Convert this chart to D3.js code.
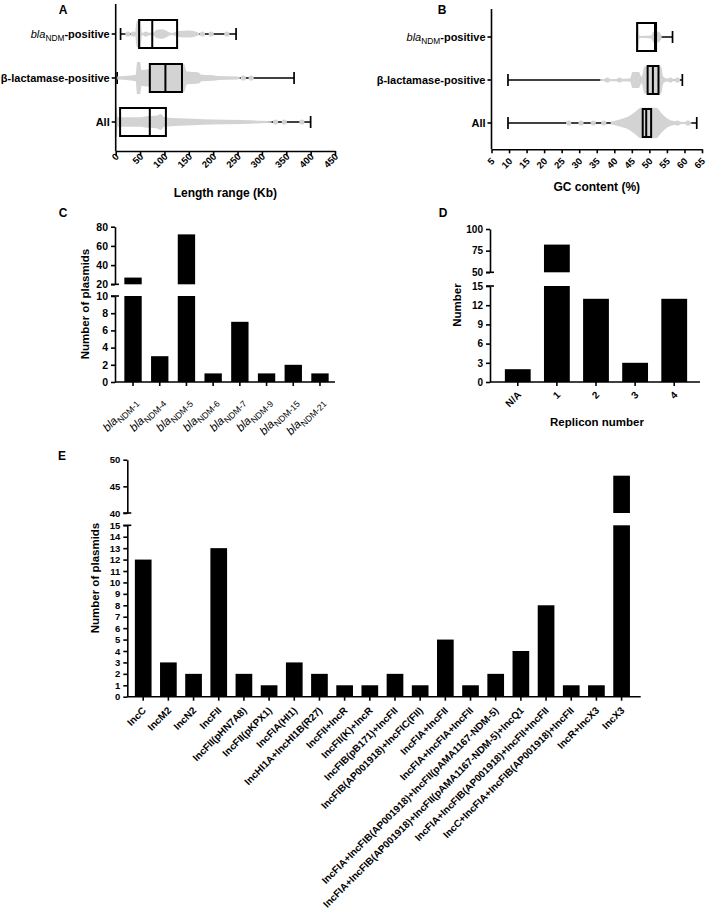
<!DOCTYPE html>
<html>
<head>
<meta charset="utf-8">
<script src="https://cdn.jsdelivr.net/npm/d3@7"></script>
<style>
  body { margin: 0; background: #fff; }
  svg { font-family: "Liberation Sans", Arial, sans-serif; font-weight: bold; }
</style>
</head>
<body>
<svg width="708" height="923"></svg>
<script>
// ---------- data ----------
const groupKeys = ["ndm", "beta", "all"];
const groupNames = ["-positive", "β-lactamase-positive", "All"];

// [min, q1, median, q3, max]
const lengthStats = [[10, 48, 75, 126, 247], [3, 70, 102, 136, 366], [0.5, 9, 70, 103, 400]];
const gcStats = [[46.5, 46.5, 51.6, 51.9, 56.6], [9.7, 49.5, 51, 52.6, 59.4], [9.7, 48.1, 49.1, 50.5, 63.5]];

// gray point clouds: [value, relative spread]
const lengthSpread = [
  [[40, 0.05], [44, 0.85], [51, 0.85], [54, 0.08], [78, 0.1], [83, 0.25], [95, 0.3], [104, 0.2], [115, 0.06], [128, 0.18], [150, 0.22], [165, 0.14], [172, 0.04]],
  [[3, 0.1], [30, 0.15], [41, 0.2], [44, 1.0], [50, 1.0], [53, 0.5], [68, 0.55], [72, 0.88], [140, 0.88], [146, 0.4], [170, 0.35], [176, 0.2], [200, 0.17], [210, 0.12], [250, 0.09], [256, 0.02]],
  [[0, 0.9], [2, 0.9], [4, 0.3], [50, 0.3], [60, 0.35], [85, 0.4], [92, 0.5], [100, 0.3], [160, 0.2], [200, 0.15], [260, 0.12], [300, 0.08], [320, 0.05]]
];
const gcSpread = [
  [[46.3, 0.85], [46.8, 0.85], [47.2, 0.07], [50.5, 0.1], [51.2, 0.35], [52.5, 0.35], [53.5, 0.08]],
  [[36, 0.06], [44.5, 0.1], [45.2, 0.5], [47, 0.5], [47.8, 0.2], [48.6, 0.85], [53.3, 0.85], [54, 0.2], [55, 0.1], [58, 0.05]],
  [[39, 0.08], [42, 0.25], [44, 0.4], [46, 0.7], [47.5, 0.95], [52, 0.95], [53.5, 0.6], [55, 0.3], [57, 0.12], [60, 0.06], [62, 0.04]]
];
// sparse single points lying on the whiskers
const lengthDots = [[25, 36, 62, 142, 178, 196, 228], [262, 278], [328, 346, 382]];
const gcDots = [[], [38, 41.5, 56, 58], [27, 30.5, 34, 37, 58, 61]];

const lengthTicks = d3.range(0, 451, 50);
const gcTicks = d3.range(5, 66, 5);

const ndmVariants = ["NDM-1", "NDM-4", "NDM-5", "NDM-6", "NDM-7", "NDM-9", "NDM-15", "NDM-21"];
const ndmCounts = [27, 3, 72, 1, 7, 1, 2, 1];

const repliconCats = ["N/A", "1", "2", "3", "4"];
const repliconCounts = [2, 82, 13, 3, 13];

const incTypes = ["IncC", "IncM2", "IncN2", "IncFII", "IncFII(pHN7A8)", "IncFII(pKPX1)", "IncFIA(HI1)",
  "IncHI1A+IncHI1B(R27)", "IncFII+IncR", "IncFII(K)+IncR", "IncFIB(pB171)+IncFII",
  "IncFIB(AP001918)+IncFIC(FII)", "IncFIA+IncFII", "IncFIA+IncFIA+IncFII",
  "IncFIA+IncFIB(AP001918)+IncFII(pAMA1167-NDM-5)", "IncFIA+IncFIB(AP001918)+IncFII(pAMA1167-NDM-5)+IncQ1",
  "IncFIA+IncFIB(AP001918)+IncFII+IncFII", "IncC+IncFIA+IncFIB(AP001918)+IncFII", "IncR+IncX3", "IncX3"];
const incCounts = [12, 3, 2, 13, 2, 1, 3, 2, 1, 1, 2, 1, 5, 1, 2, 4, 8, 1, 1, 47];

// ---------- drawing ----------
const svg = d3.select("svg");
const GRAY = "#d3d3d3";

function panelLetter(txt, x, y) {
  svg.append("text").attr("x", x).attr("y", y).attr("font-size", 12).attr("text-anchor", "middle").text(txt);
}

function blaLabel(sel, sub, rest, size, subBold) {
  sel.append("tspan").attr("font-style", "italic").attr("font-weight", "normal").text("bla");
  sel.append("tspan").attr("font-weight", subBold ? "bold" : "normal").attr("font-size", size * 0.76)
    .attr("dy", size * 0.3).text(sub);
  if (rest) sel.append("tspan").attr("dy", -size * 0.3).text(rest);
}

function styleAxis(g, size) {
  g.attr("font-family", null).attr("font-size", size);
  g.selectAll("path, line").attr("stroke", "#000").attr("stroke-width", 1.6);
  g.selectAll("text").attr("fill", "#000");
}

function boxPanel(cfg) {
  const g = svg.append("g");
  const x = d3.scaleLinear().domain(cfg.domain).range(cfg.xRange);
  const y = d3.scalePoint().domain(groupKeys).range(cfg.yRange);
  const ax = cfg.xRange[0];

  cfg.stats.forEach((s, i) => {
    const cy = y(groupKeys[i]);
    // whisker + caps
    g.append("line").attr("x1", x(s[0])).attr("x2", x(s[4])).attr("y1", cy).attr("y2", cy)
      .attr("stroke", "#000").attr("stroke-width", 1.7);
    [s[0], s[4]].forEach(v => g.append("line").attr("x1", x(v)).attr("x2", x(v))
      .attr("y1", cy - 6).attr("y2", cy + 6).attr("stroke", "#000").attr("stroke-width", 1.7));
    // point cloud
    const area = d3.area().x(d => x(d[0])).y0(d => cy - d[1] * 16).y1(d => cy + d[1] * 16).curve(d3.curveMonotoneX);
    g.append("path").datum(cfg.spread[i]).attr("d", area).attr("fill", GRAY);
    g.selectAll(null).data(cfg.dots[i]).join("circle")
      .attr("cx", d => x(d)).attr("cy", cy).attr("r", 2.6).attr("fill", GRAY);
    // box
    g.append("rect").attr("x", x(s[1])).attr("width", x(s[3]) - x(s[1]))
      .attr("y", cy - 14).attr("height", 28).attr("fill", "none")
      .attr("stroke", "#000").attr("stroke-width", 2);
    g.append("line").attr("x1", x(s[2])).attr("x2", x(s[2])).attr("y1", cy - 14).attr("y2", cy + 14)
      .attr("stroke", "#000").attr("stroke-width", 2);
  });

  // axes
  g.append("line").attr("x1", ax).attr("x2", ax).attr("y1", cfg.top).attr("y2", cfg.base)
    .attr("stroke", "#000").attr("stroke-width", 1.6);
  const xa = g.append("g").attr("transform", `translate(0,${cfg.base})`)
    .call(d3.axisBottom(x).tickValues(cfg.ticks).tickSize(4).tickSizeOuter(0).tickFormat(d3.format("d")));
  styleAxis(xa, 9.5);
  xa.selectAll("text").attr("y", 0).attr("dy", "0.35em")
    .attr("transform", `translate(${cfg.labelShift}) rotate(-45)`).attr("text-anchor", "end");

  groupKeys.forEach((k, i) => {
    const cy = y(k);
    g.append("line").attr("x1", ax - 4).attr("x2", ax).attr("y1", cy).attr("y2", cy)
      .attr("stroke", "#000").attr("stroke-width", 1.6);
    const t = g.append("text").attr("x", ax - 6).attr("y", cy).attr("dy", "0.35em")
      .attr("text-anchor", "end").attr("font-size", 11);
    if (k === "ndm") blaLabel(t, "NDM", groupNames[i], 11, false);
    else t.text(groupNames[i]);
  });
  g.append("text").attr("x", (cfg.xRange[0] + cfg.xRange[1]) / 2).attr("y", cfg.titleY)
    .attr("text-anchor", "middle").attr("font-size", 12).text(cfg.title);
}

function brokenBarPanel(cfg) {
  const g = svg.append("g");
  const x = d3.scaleBand().domain(cfg.cats).range(cfg.xRange).paddingInner(cfg.pi).paddingOuter(cfg.po);
  const yLo = d3.scaleLinear().domain(cfg.loDomain).range(cfg.loRange);
  const yHi = d3.scaleLinear().domain(cfg.hiDomain).range(cfg.hiRange);
  const ax = cfg.xRange[0];
  const rows = cfg.cats.map((c, i) => ({ c, v: cfg.values[i] }));

  g.selectAll(null).data(rows).join("rect")
    .attr("x", d => x(d.c)).attr("width", x.bandwidth())
    .attr("y", d => yLo(Math.min(d.v, cfg.loDomain[1])))
    .attr("height", d => yLo(0) - yLo(Math.min(d.v, cfg.loDomain[1])))
    .attr("fill", "#000");
  g.selectAll(null).data(rows.filter(d => d.v > cfg.hiDomain[0])).join("rect")
    .attr("x", d => x(d.c)).attr("width", x.bandwidth())
    .attr("y", d => yHi(d.v)).attr("height", d => yHi(cfg.hiDomain[0]) - yHi(d.v))
    .attr("fill", "#000");

  const lo = g.append("g").attr("transform", `translate(${ax},0)`)
    .call(d3.axisLeft(yLo).tickValues(cfg.loTicks).tickSize(4).tickSizeOuter(0));
  const hi = g.append("g").attr("transform", `translate(${ax},0)`)
    .call(d3.axisLeft(yHi).tickValues(cfg.hiTicks).tickSize(4).tickSizeOuter(0));
  styleAxis(lo, cfg.tickFont);
  styleAxis(hi, cfg.tickFont);
  // break caps
  [yLo(cfg.loDomain[1]), yHi(cfg.hiDomain[0])].forEach(yy =>
    g.append("line").attr("x1", ax - 4).attr("x2", ax + 4).attr("y1", yy).attr("y2", yy)
      .attr("stroke", "#000").attr("stroke-width", 1.6));

  const xa = g.append("g").attr("transform", `translate(0,${yLo(0)})`)
    .call(d3.axisBottom(x).tickSize(4).tickSizeOuter(0));
  styleAxis(xa, cfg.labelFont);
  xa.select(".domain").attr("d", `M${ax},0H${cfg.xEnd}`);
  xa.selectAll("text").text("").attr("y", 0).attr("dy", "0.35em")
    .attr("transform", `translate(${cfg.labelShift}) rotate(-45)`).attr("text-anchor", "end")
    .each(function (d) { cfg.label(d3.select(this), d); });

  g.append("text").attr("transform", `translate(${cfg.yTitle[0]},${cfg.yTitle[1]}) rotate(-90)`)
    .attr("text-anchor", "middle").attr("font-size", 11.5).text(cfg.yTitleText);
  if (cfg.xTitle) {
    g.append("text").attr("x", cfg.xTitle[0]).attr("y", cfg.xTitle[1]).attr("text-anchor", "middle")
      .attr("font-size", 11.5).text(cfg.xTitleText);
  }
}

// ---- A
panelLetter("A", 63, 14);
boxPanel({
  domain: [0, 450], xRange: [115.7, 335], yRange: [34, 122], top: 4, base: 151,
  stats: lengthStats, spread: lengthSpread, dots: lengthDots, ticks: lengthTicks,
  labelShift: "1,4", title: "Length range (Kb)", titleY: 197
});

// ---- B
panelLetter("B", 442, 14);
boxPanel({
  domain: [5, 65], xRange: [491.5, 702], yRange: [37, 123], top: 9, base: 149.3,
  stats: gcStats, spread: gcSpread, dots: gcDots, ticks: gcTicks,
  labelShift: "1,10", title: "GC content (%)", titleY: 191
});

// ---- C
panelLetter("C", 63, 217);
brokenBarPanel({
  cats: ndmVariants, values: ndmCounts, xRange: [115, 338], xEnd: 335, pi: 0.35, po: 0.35,
  loDomain: [0, 10], loRange: [382, 296], hiDomain: [20, 80], hiRange: [284.3, 226.7],
  loTicks: d3.range(0, 11, 2), hiTicks: [20, 40, 60, 80], tickFont: 10.5, labelFont: 11.5,
  labelShift: "2,17",
  label: (t, d) => blaLabel(t, d, "", 11.5, false),
  yTitle: [89, 304], yTitleText: "Number of plasmids"
});

// ---- D
panelLetter("D", 443, 217);
brokenBarPanel({
  cats: repliconCats, values: repliconCounts, xRange: [490, 702], xEnd: 700, pi: 0.34, po: 0.38,
  loDomain: [0, 15], loRange: [382, 286], hiDomain: [50, 100], hiRange: [272.3, 229],
  loTicks: d3.range(0, 16, 3), hiTicks: [50, 75, 100], tickFont: 10, labelFont: 10,
  labelShift: "1.5,11",
  label: (t, d) => t.text(d),
  yTitle: [461, 305], yTitleText: "Number",
  xTitle: [597, 426], xTitleText: "Replicon number"
});

// ---- E
panelLetter("E", 62, 460);
brokenBarPanel({
  cats: incTypes, values: incCounts, xRange: [127.3, 637.5], xEnd: 640.7, pi: 0.337, po: 0.3,
  loDomain: [0, 15], loRange: [696.7, 525.3], hiDomain: [40, 50], hiRange: [513, 459.7],
  loTicks: d3.range(0, 16, 1), hiTicks: [40, 45, 50], tickFont: 9.5, labelFont: 10,
  labelShift: "1,12",
  label: (t, d) => t.text(d),
  yTitle: [99, 578], yTitleText: "Number of plasmids"
});
</script>
</body>
</html>
